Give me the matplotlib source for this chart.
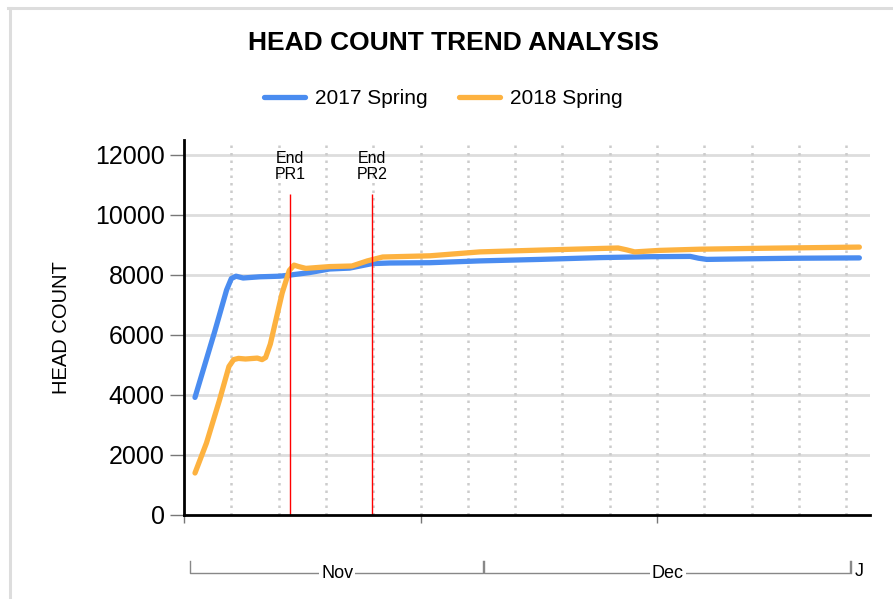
import numpy as np
import matplotlib
matplotlib.use("Agg")
import matplotlib.pyplot as plt
from matplotlib.lines import Line2D
from matplotlib.transforms import blended_transform_factory

plt.rcParams['font.family'] = ['Liberation Sans', 'DejaVu Sans']

#%% Data (x = days from axis start, axis starts ~Nov 5)

days_2017 = [0.93, 2.6, 3.6, 4.0, 4.4, 5.0, 6.4, 8.1, 9.0, 10.6, 12.3, 14.0, 15.9,
             17.4, 20.8, 25.0, 30.1, 35.2, 39.4, 42.8, 43.5, 44.2, 47.8, 52.1, 57.1]
head_2017 = [3920, 6120, 7500, 7880, 7960, 7900, 7940, 7960, 8000, 8080, 8200, 8230, 8380,
             8400, 8410, 8470, 8520, 8580, 8610, 8620, 8560, 8520, 8540, 8560, 8570]

days_2018 = [0.93, 1.9, 3.0, 3.8, 4.2, 4.6, 5.2, 6.2, 6.6, 6.9, 7.3, 8.3, 8.9, 9.3, 9.7, 10.3,
             12.3, 14.2, 15.5, 16.8, 20.8, 25.0, 30.1, 36.7, 37.4, 38.1, 40.2, 43.6, 48.7, 57.1]
head_2018 = [1400, 2400, 3830, 4950, 5180, 5220, 5200, 5230, 5180, 5250, 5700, 7400, 8150, 8330,
             8280, 8220, 8280, 8300, 8470, 8600, 8640, 8770, 8830, 8900, 8840, 8770,
             8820, 8860, 8890, 8930]

series_names = ['2017 Spring', '2018 Spring']
series_colors = ['#4a8cf0', '#fdb240']

# Period end markers
marker_days = [8.96, 15.93]
marker_labels = ['End\nPR1', 'End\nPR2']

# Month brackets under the axis
month_names = ['Nov', 'Dec', 'J']
month_edges = [0.5, 25.4, 56.4, 57.0]

#%% Figure

fig = plt.figure(figsize=(8.93, 5.99), dpi=100)
ax = fig.add_axes([184/893, 1 - 515/599, 686/893, 375/599])

lines = []
for d, v, name, c in zip([days_2017, days_2018], [head_2017, head_2018],
                         series_names, series_colors):
    ln, = ax.plot(d, v, color=c, lw=3.8, label=name,
                  solid_capstyle='round', solid_joinstyle='round', zorder=3)
    lines.append(ln)

# Red period lines + labels
for d, lab in zip(marker_days, marker_labels):
    ax.vlines(d, 0, 10700, color='red', lw=1, zorder=4)
    ax.text(d, 11100, lab, ha='center', va='bottom', fontsize=11.5,
            linespacing=1.05)

# Axes limits and grid
ax.set_xlim(0, 58)
ax.set_ylim(0, 12500)
ax.set_yticks(np.arange(0, 12001, 2000))
ax.set_xticks([0, 20, 40])
ax.set_xticklabels([])
ax.tick_params(axis='x', which='major', length=6, width=1, color='#777777')
ax.tick_params(axis='y', length=10, width=1, color='#777777', labelsize=18, pad=4)

for yv in np.arange(2000, 12001, 2000):
    ax.axhline(yv, color='#dddddd', lw=2, zorder=1)
for xv in np.arange(4, 57, 4):
    ax.axvline(xv, color='#cccccc', lw=1.8, linestyle=(0, (1, 2)), zorder=1)

for s in ['top', 'right']:
    ax.spines[s].set_visible(False)
ax.spines['left'].set_linewidth(2)
ax.spines['bottom'].set_linewidth(2)
ax.spines['left'].set_zorder(5)
ax.spines['bottom'].set_zorder(5)

ax.set_ylabel('HEAD COUNT', fontsize=14.5)
ax.yaxis.set_label_coords(-0.165, 0.5)

# Month brackets
tr = blended_transform_factory(ax.transData, fig.transFigure)
y_line = 1 - 573/599
y_top = 1 - 561/599
for i, name in enumerate(month_names):
    x0, x1 = month_edges[i], month_edges[i + 1]
    if name == 'J':
        ax.plot([x0, x0], [y_top, y_line], color='#888888', lw=1,
                transform=tr, clip_on=False)
        ax.text(x0 + 0.3, y_line + 0.003, name, transform=tr, ha='left',
                va='center', fontsize=13)
        continue
    ax.plot([x0, x0, x1 - 0.1, x1 - 0.1], [y_top, y_line, y_line, y_top],
            color='#888888', lw=1, transform=tr, clip_on=False)
    ax.text((x0 + x1) / 2, y_line, name, transform=tr, ha='center',
            va='center', fontsize=13,
            bbox=dict(facecolor='white', edgecolor='none', pad=1.5))

# Title and legend
fig.text(453/893, 1 - 43/599, 'HEAD COUNT TREND ANALYSIS', ha='center',
         va='center', fontsize=19, fontweight='bold')
fig.legend(handles=lines, loc='center', bbox_to_anchor=(443/893, 1 - 99/599),
           ncol=2, frameon=False, fontsize=15, handlelength=2.0,
           handletextpad=0.45, columnspacing=1.5)

# Card border (top and left visible)
fig.add_artist(Line2D([8/893, 1], [1 - 7.5/599, 1 - 7.5/599],
                      color='#dddddd', lw=2.2, transform=fig.transFigure))
fig.add_artist(Line2D([9.5/893, 9.5/893], [0, 1 - 7.5/599],
                      color='#dddddd', lw=2.2, transform=fig.transFigure))

fig.savefig('out.png', dpi=100)
